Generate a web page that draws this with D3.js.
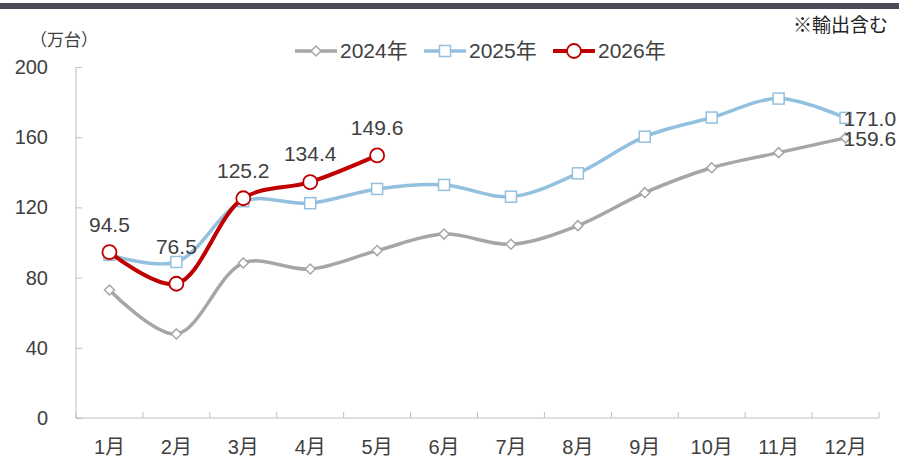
<!DOCTYPE html>
<html>
<head>
<meta charset="utf-8">
<script src="https://cdn.jsdelivr.net/npm/d3@7"></script>
<style>
  body { margin: 0; background: #fff; }
  svg text { font-family: "Liberation Sans", Arial, "Noto Sans CJK JP", sans-serif; fill: #404040; }
</style>
</head>
<body>
<svg id="chart"></svg>
<script>
const months = ["1月","2月","3月","4月","5月","6月","7月","8月","9月","10月","11月","12月"];
const sales2024 = [72.9, 47.9, 88.3, 84.9, 95.4, 104.8, 99.0, 109.6, 128.4, 142.6, 151.2, 159.6];
const sales2025 = [93.0, 88.9, 123.5, 122.4, 130.5, 132.8, 126.1, 139.4, 160.3, 171.2, 182.0, 171.0];
const sales2026 = [94.5, 76.5, 125.2, 134.4, 149.6];
const yTicks = [0, 40, 80, 120, 160, 200];
const legendNames = ["2024年", "2025年", "2026年"];

const width = 899, height = 457;
const svg = d3.select("#chart").attr("width", width).attr("height", height);

const plotLeft = 76, plotRight = 879, plotTop = 67, plotBottom = 418;
const axisColor = "#bfbfbf";
const colors = ["#a6a6a6", "#93c0df", "#c00000"];

// top rule
svg.append("rect").attr("x", 0).attr("y", 3).attr("width", width).attr("height", 6).attr("fill", "#4b4b5c");

const x = d3.scaleBand().domain(months).range([plotLeft, plotRight]);
const y = d3.scaleLinear().domain([0, 200]).range([plotBottom, plotTop]);
const cx = (d, i) => x(months[i]) + x.bandwidth() / 2;

// y axis
const yAxis = svg.append("g").attr("transform", `translate(${plotLeft},0)`)
  .call(d3.axisRight(y).tickValues(yTicks).tickSize(6).tickFormat(""));
yAxis.select(".domain").attr("stroke", axisColor).attr("d", `M0,${plotTop}V${plotBottom}`);
yAxis.selectAll("line").attr("stroke", axisColor);
svg.append("g").selectAll("text").data(yTicks).enter().append("text")
  .attr("x", 48).attr("y", d => y(d)).attr("dy", "0.35em")
  .attr("text-anchor", "end").style("font-size", "20px").text(d => d);

// x axis
const xAxis = svg.append("g").attr("transform", `translate(0,${plotBottom})`);
xAxis.append("line").attr("x1", plotLeft).attr("x2", plotRight).attr("stroke", axisColor);
xAxis.selectAll(".tk").data(d3.range(months.length + 1)).enter().append("line")
  .attr("x1", i => plotLeft + i * x.step()).attr("x2", i => plotLeft + i * x.step())
  .attr("y1", 0).attr("y2", -6).attr("stroke", axisColor);
xAxis.selectAll("text").data(months).enter().append("text")
  .attr("x", d => x(d) + x.bandwidth() / 2).attr("y", 29).attr("dy", "0.35em")
  .attr("text-anchor", "middle").style("font-size", "20px").text(d => d);

// unit and note
svg.append("text").attr("x", 30).attr("y", 46).style("font-size", "17px").text("（万台）");
svg.append("text").attr("x", 888).attr("y", 32).attr("text-anchor", "end")
  .style("font-size", "19px").style("fill", "#222").text("※輸出含む");

const line = d3.line().x(cx).y(d => y(d)).curve(d3.curveCatmullRom.alpha(0.5));

function marker(g, idx) {
  if (idx === 0) {
    g.append("path").attr("d", "M0,-5L5,0L0,5L-5,0Z")
      .attr("fill", "#fff").attr("stroke", colors[0]).attr("stroke-width", 1.5);
  } else if (idx === 1) {
    g.append("rect").attr("x", -5.5).attr("y", -5.5).attr("width", 11).attr("height", 11)
      .attr("fill", "#fff").attr("stroke", colors[1]).attr("stroke-width", 1.5);
  } else {
    g.append("circle").attr("r", 7).attr("fill", "#fff").attr("stroke", colors[2]).attr("stroke-width", 1.8);
  }
}

const series = [sales2024, sales2025, sales2026];
const widths = [3.5, 3.5, 4];
series.forEach((s, k) => {
  svg.append("path").datum(s).attr("d", line)
    .attr("fill", "none").attr("stroke", colors[k]).attr("stroke-width", widths[k]);
  s.forEach((v, i) => {
    const g = svg.append("g").attr("transform", `translate(${cx(v, i)},${y(v)})`);
    marker(g, k);
  });
});

// 2026 labels
sales2026.forEach((v, i) => {
  const lift = i === 1 ? 37 : 28;
  svg.append("text").attr("x", cx(v, i)).attr("y", y(v) - lift).attr("dy", "0.35em")
    .attr("text-anchor", "middle").style("font-size", "21px").text(v.toFixed(1));
});
// year-end labels
[sales2025, sales2024].forEach(s => {
  const i = s.length - 1;
  svg.append("text").attr("x", cx(s[i], i) - 2).attr("y", y(s[i]) + 1).attr("dy", "0.35em")
    .style("font-size", "21px").text(s[i].toFixed(1));
});

// legend
const legendX = [295, 424, 553];
legendNames.forEach((name, k) => {
  const g = svg.append("g").attr("transform", `translate(${legendX[k]},51)`);
  g.append("line").attr("x1", 0).attr("x2", 42).attr("stroke", colors[k]).attr("stroke-width", widths[k]);
  const m = g.append("g").attr("transform", "translate(21,0)");
  marker(m, k);
  g.append("text").attr("x", 45).attr("dy", "0.35em").style("font-size", "21px").text(name);
});
</script>
</body>
</html>
